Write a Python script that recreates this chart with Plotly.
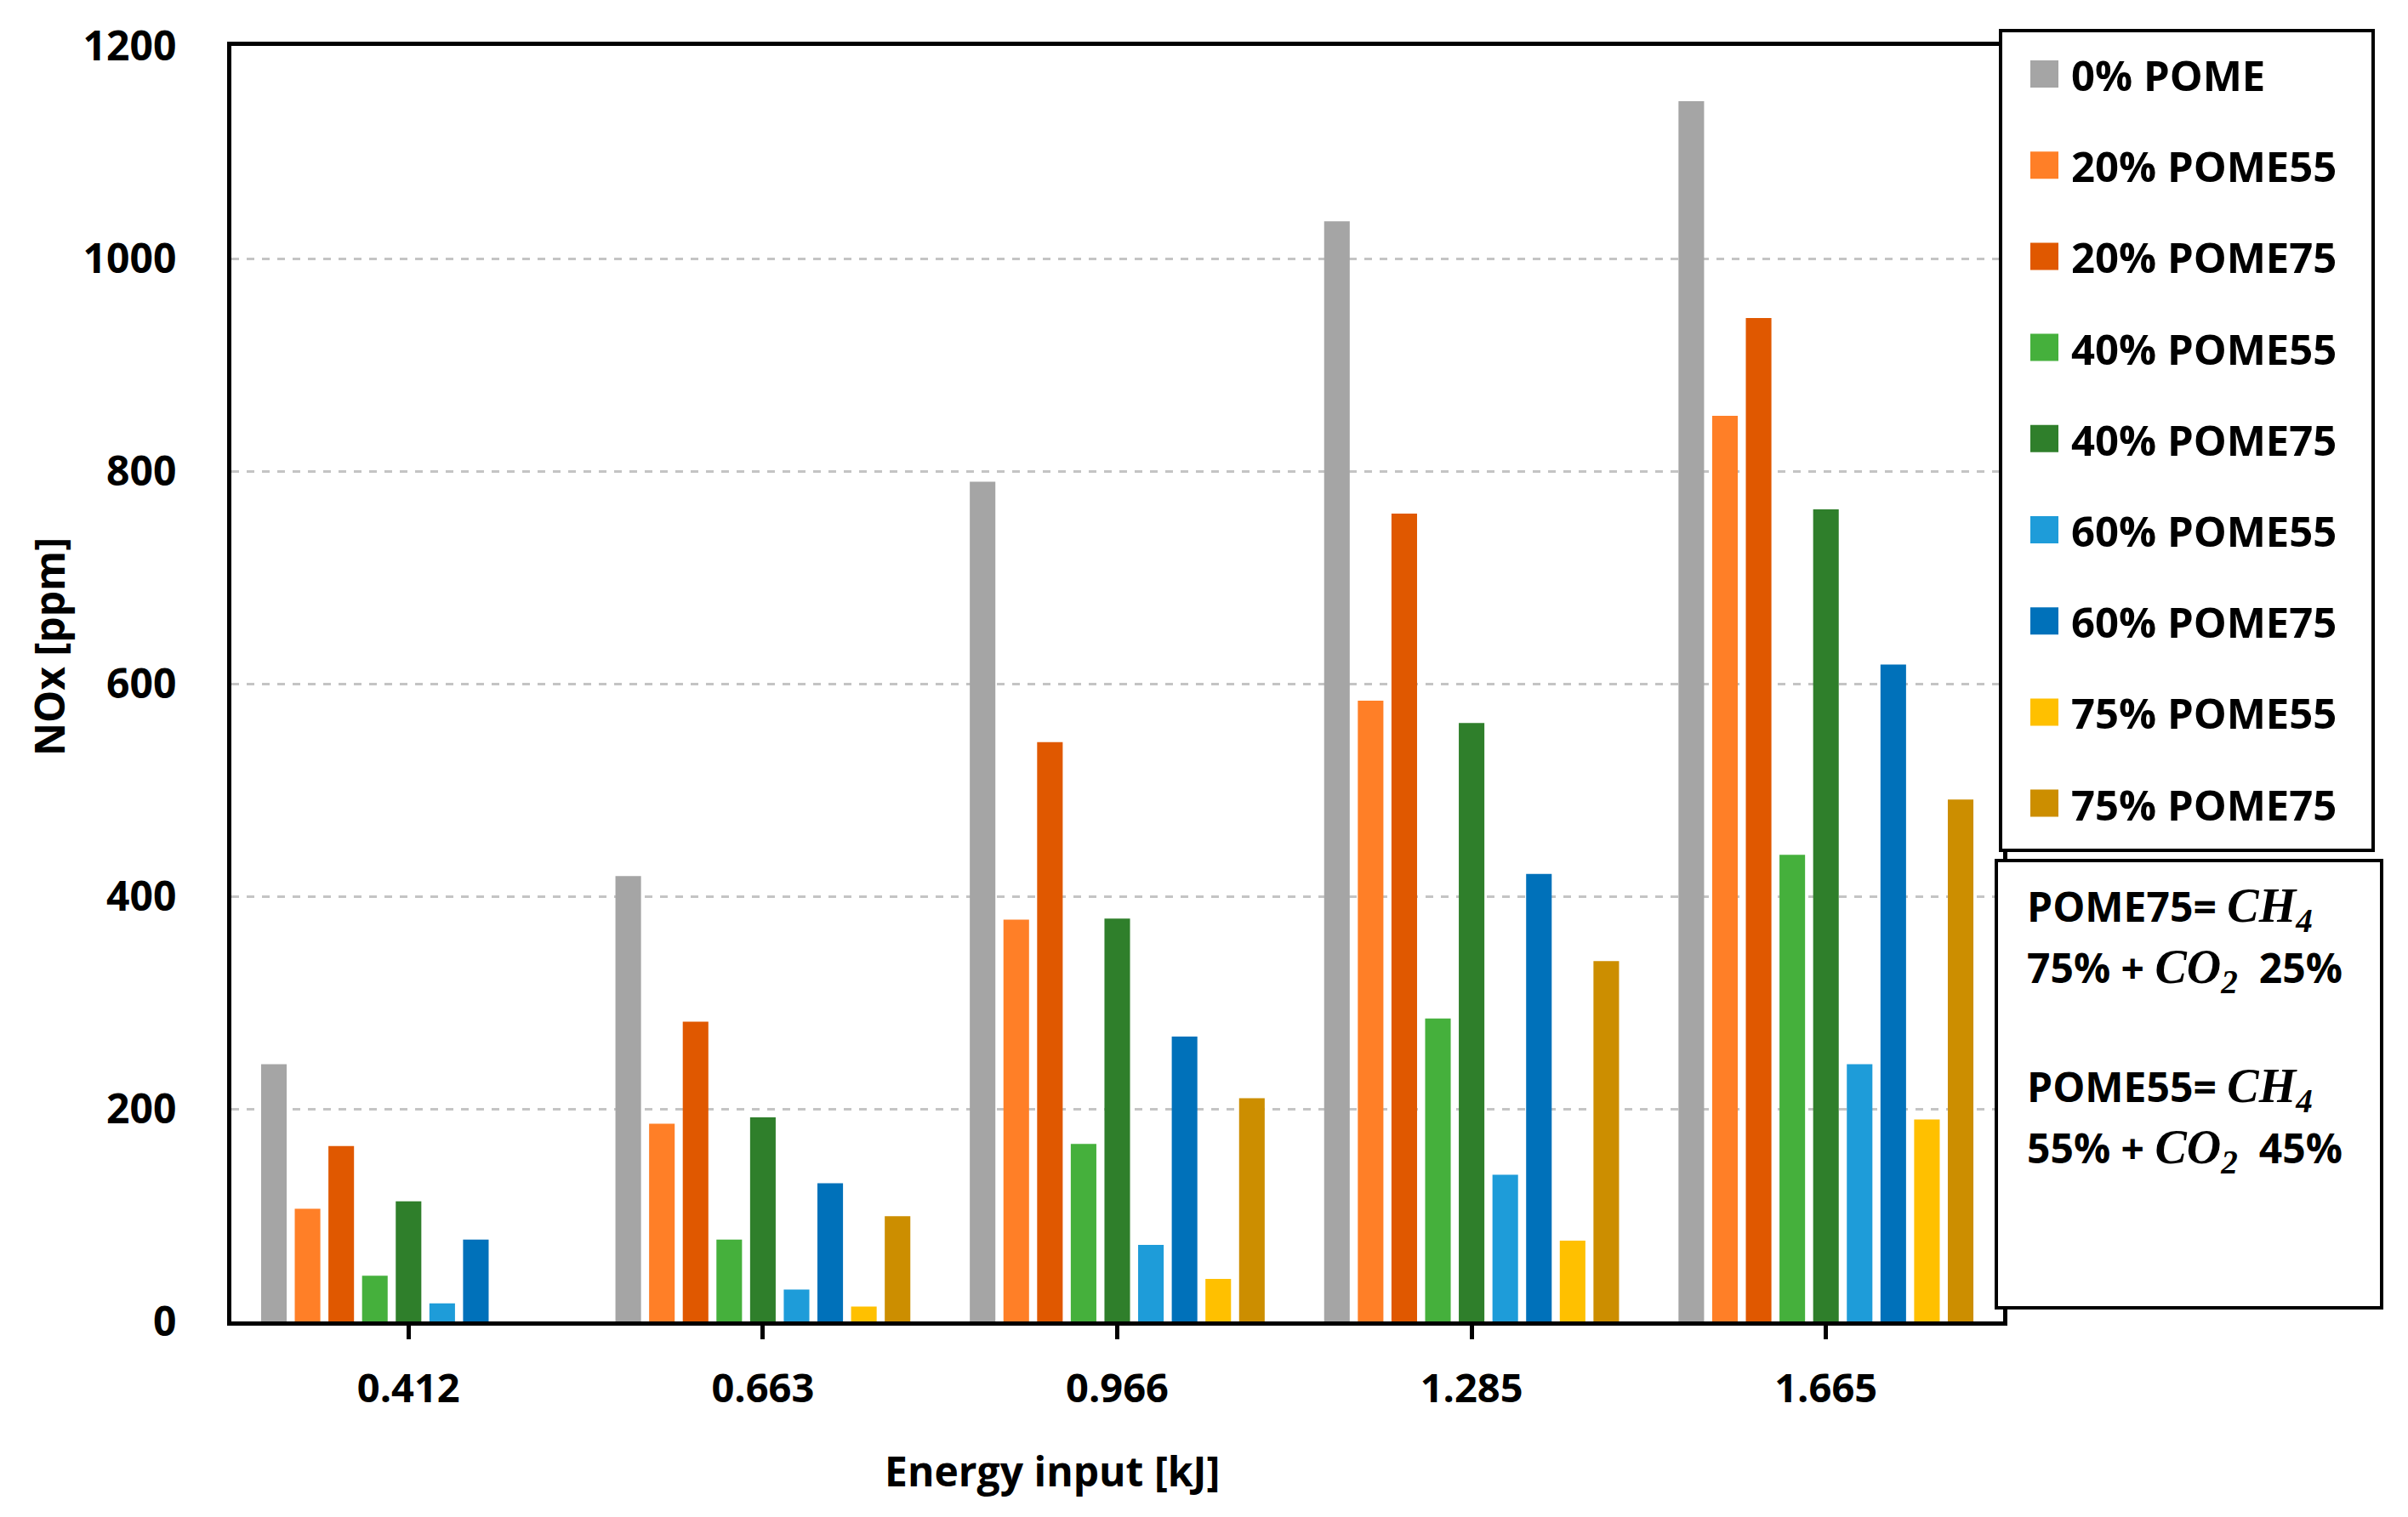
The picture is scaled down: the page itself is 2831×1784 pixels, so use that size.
import plotly.graph_objects as go

# ---- data ----
energy_labels = ["0.412", "0.663", "0.966", "1.285", "1.665"]
series_names = ["0% POME", "20% POME55", "20% POME75", "40% POME55", "40% POME75",
                "60% POME55", "60% POME75", "75% POME55", "75% POME75"]
pome0 = [242, 419, 790, 1035, 1148]
pome20_55 = [106, 186, 378, 584, 852]
pome20_75 = [165, 282, 545, 760, 944]
pome40_55 = [43, 77, 167, 285, 439]
pome40_75 = [113, 192, 379, 563, 764]
pome60_55 = [17, 30, 72, 138, 242]
pome60_75 = [77, 130, 268, 421, 618]
pome75_55 = [None, 14, 40, 76, 190]
pome75_75 = [None, 99, 210, 339, 491]
series_values = [pome0, pome20_55, pome20_75, pome40_55, pome40_75,
                 pome60_55, pome60_75, pome75_55, pome75_75]
colors = ["#A5A5A5", "#FF7F27", "#E05800", "#45B03C", "#2F7F2B",
          "#1E9CD9", "#0071BA", "#FFC000", "#CC8E00"]
y_ticks = [0, 200, 400, 600, 800, 1000, 1200]
x_title = "Energy input [kJ]"
y_title = "NOx [ppm]"

MATH = "font-family:Liberation Serif;font-size:56px;font-weight:bold;font-style:italic"
note_lines = [
    f"POME75= <span style='{MATH}'>CH<sub>4</sub></span>",
    f"75% + <span style='{MATH}'>CO<sub>2</sub></span>  25%",
    f"POME55= <span style='{MATH}'>CH<sub>4</sub></span>",
    f"55% + <span style='{MATH}'>CO<sub>2</sub></span>  45%",
]

# ---- layout geometry (pixels) ----
FW, FH = 2831, 1784
L, R, T, B = 272, 2355, 54, 1554
W, H = R - L, B - T
FONT = "Open Sans"


def xp(px):
    return (px - L) / W


def yp(py):
    return (B - py) / H


fig = go.Figure()
for name, vals, col in zip(series_names, series_values, colors):
    fig.add_trace(go.Bar(name=name, x=energy_labels, y=vals,
                         marker=dict(color=col, line=dict(width=0)),
                         showlegend=False))

shapes = []
annotations = []

# legend box
shapes.append(dict(type="rect", xref="paper", yref="paper",
                   x0=xp(2352), x1=xp(2790), y0=yp(36), y1=yp(1000),
                   line=dict(color="black", width=4), fillcolor="white", layer="above"))
for i, (name, col) in enumerate(zip(series_names, colors)):
    cy = 87 + 107.2 * i
    shapes.append(dict(type="rect", xref="paper", yref="paper",
                       x0=xp(2387), x1=xp(2420), y0=yp(cy - 16), y1=yp(cy + 16),
                       line=dict(width=0), fillcolor=col, layer="above"))
    annotations.append(dict(text=name, xref="paper", yref="paper",
                            x=xp(2433), y=yp(cy + 1), xanchor="left", yanchor="middle",
                            showarrow=False,
                            font=dict(family=FONT, size=49, color="black", weight="bold")))

# note box
shapes.append(dict(type="rect", xref="paper", yref="paper",
                   x0=xp(2347), x1=xp(2800), y0=yp(1012), y1=yp(1538),
                   line=dict(color="black", width=4), fillcolor="white", layer="above"))
for line_text, cy in zip(note_lines, [1068, 1140, 1280, 1352]):
    annotations.append(dict(text=line_text, xref="paper", yref="paper",
                            x=xp(2381), y=yp(cy), xanchor="left", yanchor="middle",
                            showarrow=False,
                            font=dict(family=FONT, size=48, color="black", weight="bold")))

# axis titles
annotations.append(dict(text=x_title, xref="paper", yref="paper",
                        x=xp(1237), y=yp(1729), xanchor="center", yanchor="middle",
                        showarrow=False,
                        font=dict(family=FONT, size=48, color="black", weight="bold")))
annotations.append(dict(text=y_title, xref="paper", yref="paper",
                        x=xp(57), y=yp(761), xanchor="center", yanchor="middle",
                        textangle=-90, showarrow=False,
                        font=dict(family=FONT, size=48, color="black", weight="bold")))

fig.update_layout(
    width=FW, height=FH,
    margin=dict(l=L, r=FW - R, t=T, b=FH - B, pad=0),
    paper_bgcolor="white", plot_bgcolor="white",
    barmode="group", bargap=0.145, bargroupgap=0.24,
    showlegend=False,
    shapes=shapes, annotations=annotations,
    font=dict(family=FONT, size=46, color="black"),
)
fig.update_xaxes(
    type="category", categoryorder="array", categoryarray=energy_labels,
    showline=True, linecolor="black", linewidth=5, mirror=True,
    ticks="outside", ticklen=16, tickwidth=5, tickcolor="black",
    tickfont=dict(family=FONT, size=47, color="black", weight="bold"),
    ticklabelstandoff=18, showgrid=False,
)
fig.update_yaxes(
    range=[0, 1200], tickvals=y_ticks,
    showline=True, linecolor="black", linewidth=5, mirror=True,
    ticks="", ticklabelstandoff=50,
    tickfont=dict(family=FONT, size=48, color="black", weight="bold"),
    showgrid=True, gridcolor="#C4C4C4", gridwidth=3, griddash="dash",
    zeroline=False,
)

fig.write_html("out.html", config={"displayModeBar": False},
               post_script="document.body.style.margin='0px';")
